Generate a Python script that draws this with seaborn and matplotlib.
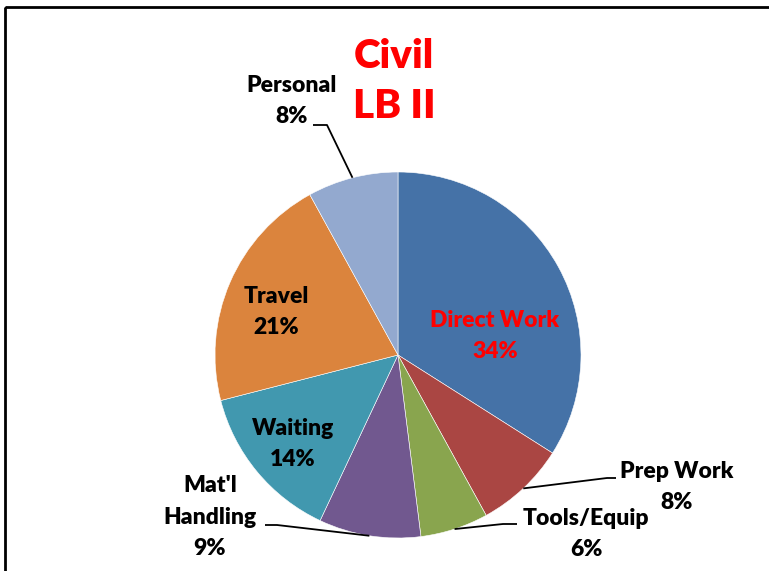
import numpy as np
import matplotlib
matplotlib.use("Agg")
import matplotlib.pyplot as plt
from matplotlib.patches import Rectangle
import seaborn as sns

# ---- data ----
categories = ["Direct Work", "Prep Work", "Tools/Equip", "Mat'l\nHandling", "Waiting", "Travel", "Personal"]
values = [34, 8, 6, 9, 14, 21, 8]
colors = ["#4572A7", "#AA4643", "#89A54E", "#71588F", "#4198AF", "#DB843D", "#93A9CF"]
title_lines = ["Civil", "LB II"]

sns.set_theme(style="white")
plt.rcParams['font.family'] = ['Lato', 'DejaVu Sans']
palette = sns.color_palette(colors)

W, H = 769, 571
fig = plt.figure(figsize=(W / 100, H / 100), dpi=100)
ax = fig.add_axes([0, 0, 1, 1])

def P(x, y):
    """pixel (top-left origin) -> data coords"""
    return (x, H - y)

cx, cy = P(398, 355)
R = 183
wedges, _ = ax.pie(values, colors=palette, startangle=90, counterclock=False,
                   center=(cx, cy), radius=R, frame=True,
                   wedgeprops=dict(edgecolor="white", linewidth=0.4))
ax.set_xlim(0, W)
ax.set_ylim(0, H)
ax.set_aspect('equal')
ax.axis('off')

# frame around chart area
ax.add_patch(Rectangle(P(5, 7), 800, -600, fill=False, edgecolor="black",
                       linewidth=2, clip_on=False))

wt = "heavy"
# title
ax.text(*P(394, 57), title_lines[0], color="red", fontsize=29, fontweight=wt,
        ha="center", va="center")
ax.text(*P(394, 107), title_lines[1], color="red", fontsize=29, fontweight=wt,
        ha="center", va="center")

fs = 16.5
ls = 1.62
# inside labels: (index, text center px, color)
inside = {0: ((495, 336), "red"), 5: ((276, 312), "black"), 4: ((293, 444), "black")}
for i, (pos, col) in inside.items():
    ax.text(*P(*pos), f"{categories[i]}\n{values[i]}%", color=col, fontsize=fs,
            fontweight=wt, ha="center", va="center", linespacing=ls)

# outside labels with leader lines
mids = []
start = 90.0
for v in values:
    span = v / sum(values) * 360
    mids.append(start - span / 2)
    start -= span

outside = {
    1: ((677, 487), [(607, 478), (616, 478)]),
    2: ((586, 534), [(503, 524), (517, 524)]),
    3: ((210, 517), [(277, 525), (265, 525)]),
    6: ((292, 101), [(327, 125), (313, 125)]),
}
for i, (tpos, pts) in outside.items():
    a = np.deg2rad(mids[i])
    sx, sy = cx + R * np.cos(a), cy + R * np.sin(a)
    xs = [sx] + [P(*p)[0] for p in pts]
    ys = [sy] + [P(*p)[1] for p in pts]
    ax.plot(xs, ys, color="black", linewidth=1.3, solid_capstyle="butt")
    ax.text(*P(*tpos), f"{categories[i]}\n{values[i]}%", color="black", fontsize=fs,
            fontweight=wt, ha="center", va="center", linespacing=ls)

fig.savefig("out.png", dpi=100, facecolor="white")
